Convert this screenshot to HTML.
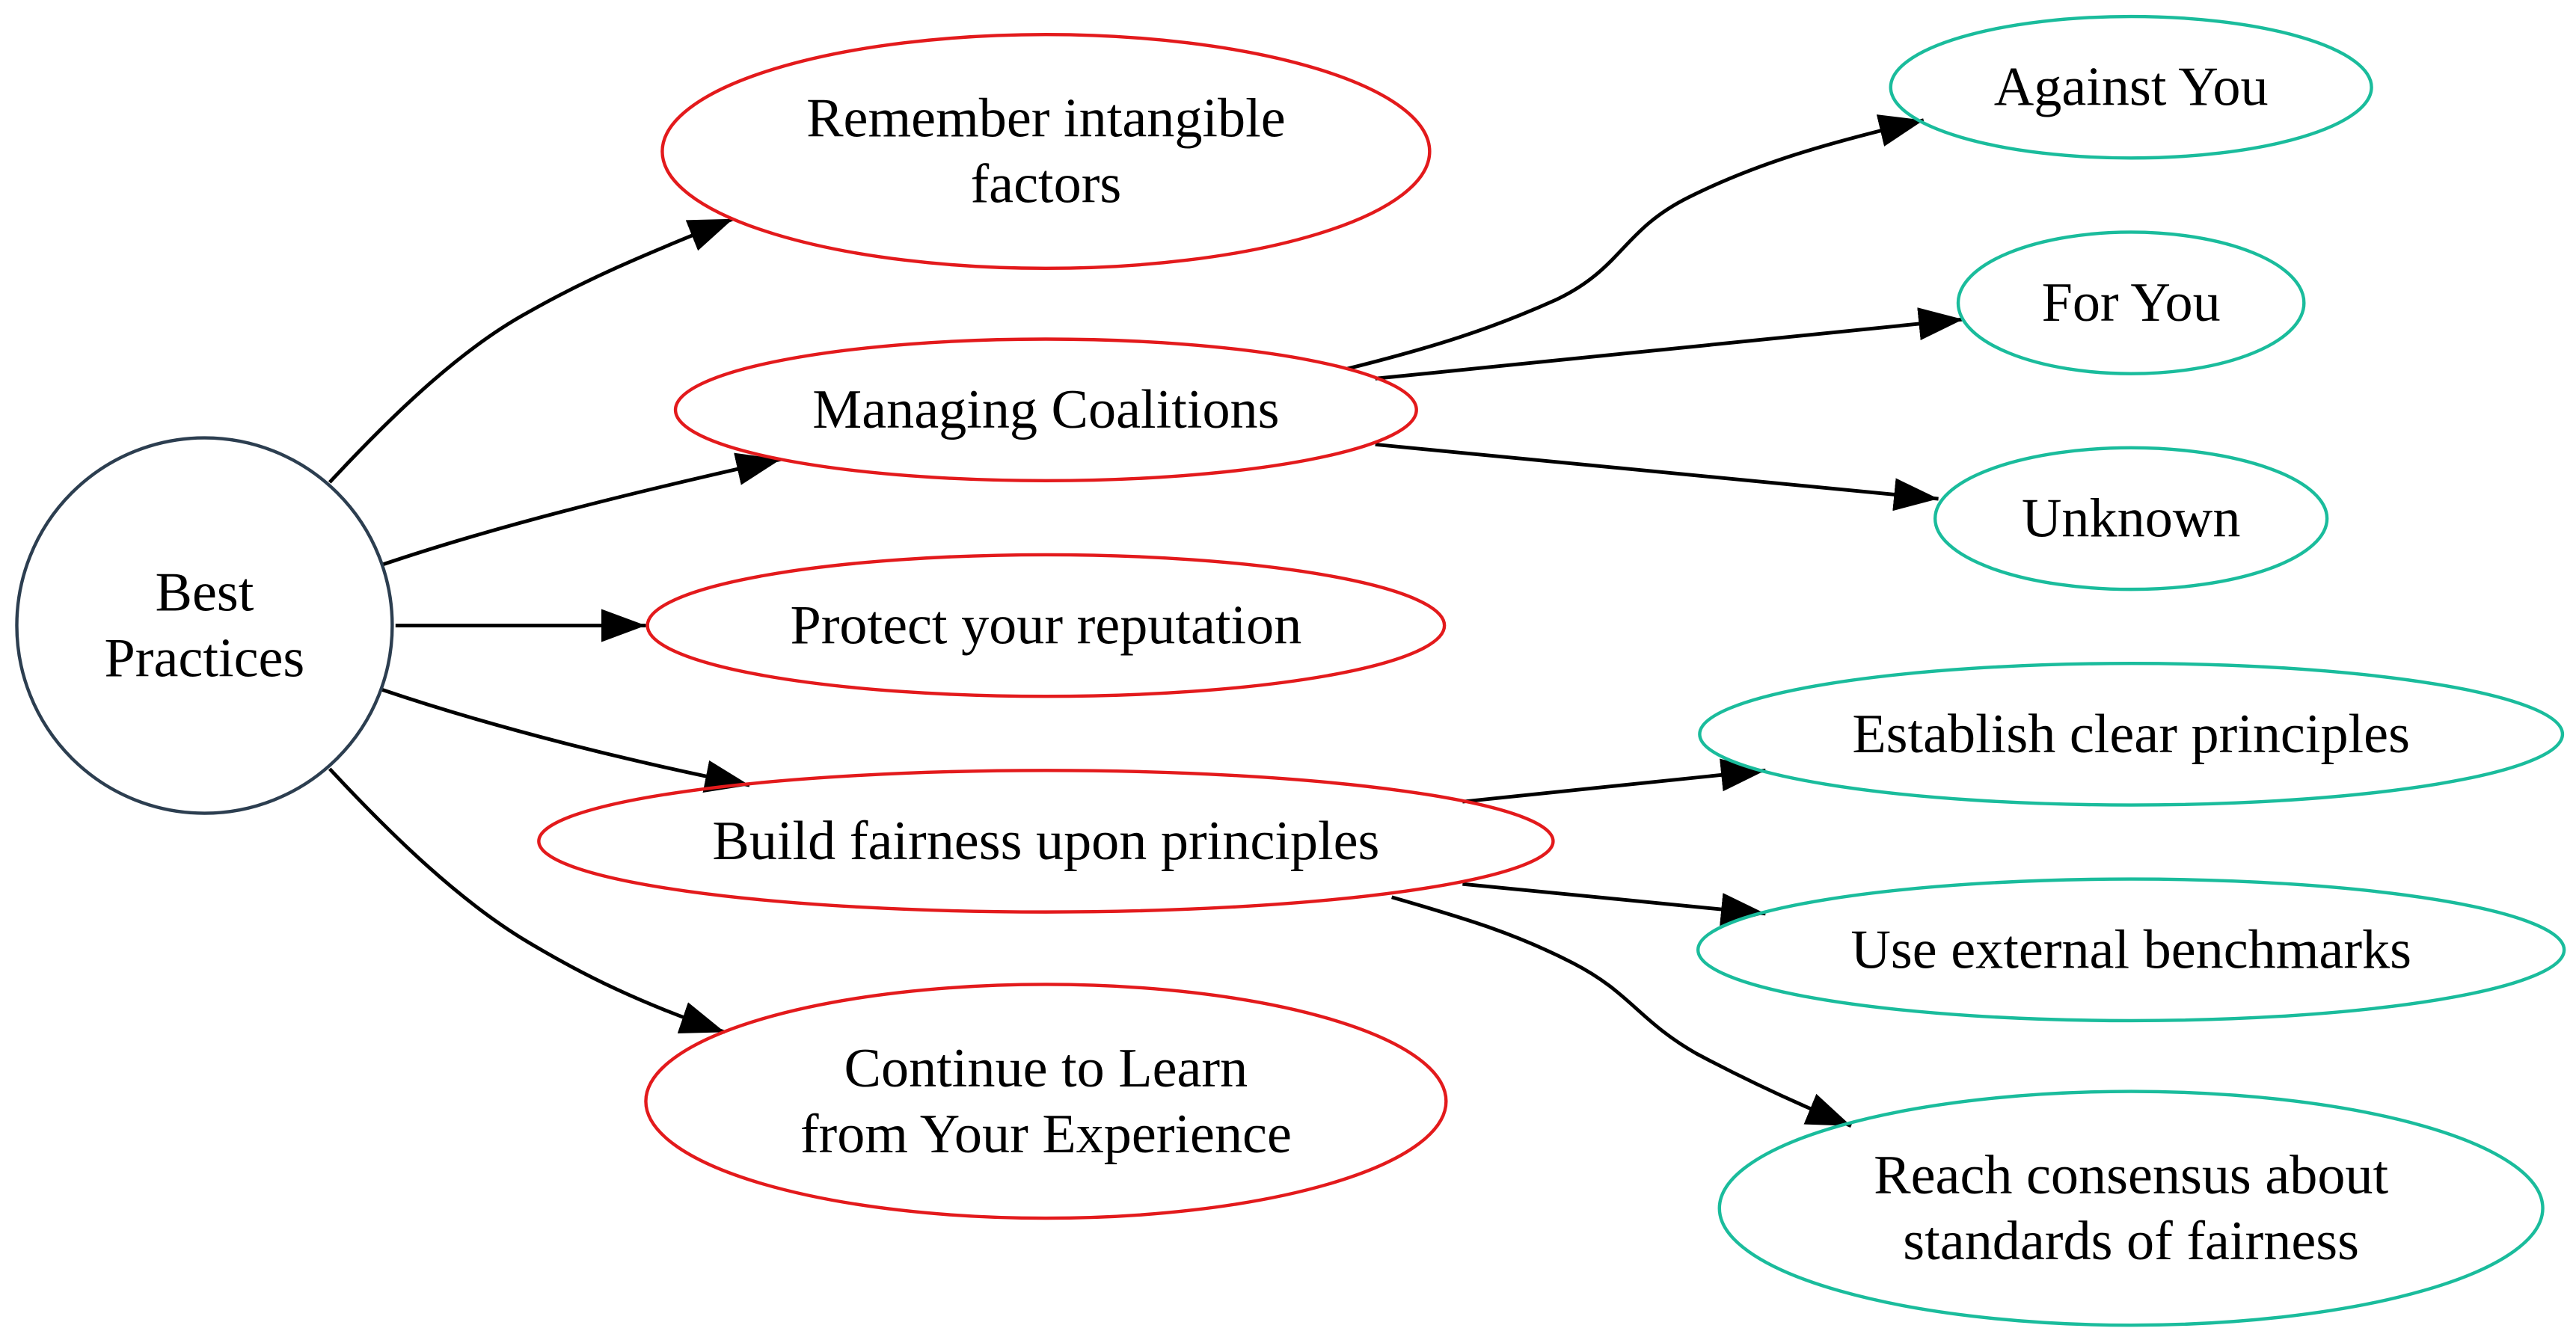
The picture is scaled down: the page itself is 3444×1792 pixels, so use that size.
<!DOCTYPE html>
<html><head><meta charset="utf-8"><style>
html,body{margin:0;padding:0;background:#fff;}
svg{display:block;}
text{font-family:"Liberation Serif",serif;font-size:33.7px;fill:#000;text-anchor:middle;dominant-baseline:central;}
</style></head><body>
<svg width="3444" height="1792" viewBox="0 0 1564 814" xmlns="http://www.w3.org/2000/svg">
<defs><marker id="a" markerUnits="userSpaceOnUse" markerWidth="28" markerHeight="22" refX="27" refY="10" orient="auto"><path d="M0,0 L27,10 L0,20 z" fill="#000"/></marker></defs>
<g fill="none" stroke="#000" stroke-width="2.2" marker-end="url(#a)">
<path d="M200,293 C240,250 280,212 320,190 C355,170 390,155 445,133"/>
<path d="M232,343 C300,320 380,300 474,279"/>
<path d="M240,380 L392,380"/>
<path d="M232,419 C300,442 380,462 455,477"/>
<path d="M200,467 C240,510 280,548 320,572 C355,593 390,610 440,627"/>
<path d="M818,224 C870,211 905,200 945,182 C985,163 985,140 1025,120 C1065,100 1105,88 1168,73"/>
<path d="M835,230 L1192,194"/>
<path d="M835,270 L1177,303"/>
<path d="M888,487 L1072,468"/>
<path d="M888,537 L1072,555"/>
<path d="M845,545 C890,558 920,567 955,585 C990,603 995,620 1030,640 C1060,656 1090,670 1124,684"/>
</g>
<circle cx="124" cy="380" r="114" fill="none" stroke="#2c3e50" stroke-width="2"/>
<g fill="none" stroke="#e31a1c" stroke-width="2">
<ellipse cx="635" cy="92" rx="233" ry="71"/>
<ellipse cx="635" cy="249" rx="225" ry="43"/>
<ellipse cx="635" cy="380" rx="242" ry="43"/>
<ellipse cx="635" cy="511" rx="308" ry="43"/>
<ellipse cx="635" cy="669" rx="243" ry="71"/>
</g>
<g fill="none" stroke="#1abc9c" stroke-width="2">
<ellipse cx="1294" cy="53" rx="146" ry="43"/>
<ellipse cx="1294" cy="184" rx="105" ry="43"/>
<ellipse cx="1294" cy="315" rx="119" ry="43"/>
<ellipse cx="1294" cy="446" rx="262" ry="43"/>
<ellipse cx="1294" cy="577" rx="263" ry="43"/>
<ellipse cx="1294" cy="734" rx="250" ry="71"/>
</g>
<text x="124" y="360">Best</text><text x="124" y="400">Practices</text>
<text x="635" y="72">Remember intangible</text><text x="635" y="112">factors</text>
<text x="635" y="249">Managing Coalitions</text>
<text x="635" y="380">Protect your reputation</text>
<text x="635" y="511">Build fairness upon principles</text>
<text x="635" y="649">Continue to Learn</text><text x="635" y="689">from Your Experience</text>
<text x="1294" y="53">Against You</text>
<text x="1294" y="184">For You</text>
<text x="1294" y="315">Unknown</text>
<text x="1294" y="446">Establish clear principles</text>
<text x="1294" y="577">Use external benchmarks</text>
<text x="1294" y="714">Reach consensus about</text><text x="1294" y="754">standards of fairness</text>
</svg>
</body></html>
